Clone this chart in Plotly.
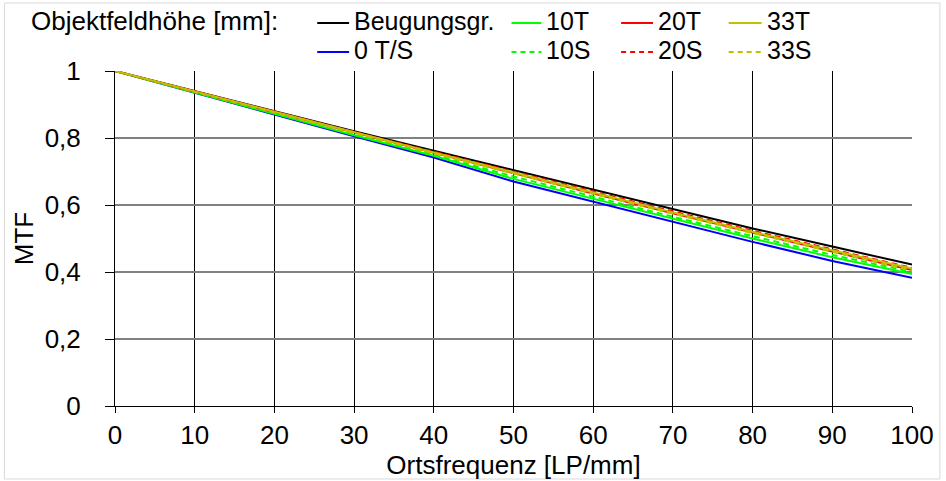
import plotly.graph_objects as go

# Spatial frequency grid [LP/mm]
freq = [0, 10, 20, 30, 40, 50, 60, 70, 80, 90, 100]

# MTF values per object field height
mtf_diffraction = [1.0, 0.940, 0.879, 0.820, 0.762, 0.704, 0.646, 0.588, 0.530, 0.476, 0.422]
mtf_0ts = [1.0, 0.936, 0.870, 0.805, 0.742, 0.670, 0.610, 0.548, 0.490, 0.433, 0.383]
mtf_10t = [1.0, 0.937, 0.872, 0.808, 0.747, 0.678, 0.618, 0.558, 0.500, 0.444, 0.394]
mtf_10s = [1.0, 0.938, 0.874, 0.811, 0.750, 0.685, 0.624, 0.565, 0.507, 0.451, 0.400]
mtf_20t = [1.0, 0.939, 0.876, 0.815, 0.755, 0.694, 0.634, 0.575, 0.517, 0.461, 0.406]
mtf_20s = [1.0, 0.939, 0.878, 0.818, 0.759, 0.699, 0.640, 0.581, 0.523, 0.468, 0.412]
mtf_33t = [1.0, 0.939, 0.877, 0.816, 0.757, 0.697, 0.637, 0.578, 0.520, 0.465, 0.410]
mtf_33s = [1.0, 0.939, 0.876, 0.814, 0.754, 0.693, 0.633, 0.574, 0.516, 0.460, 0.405]

x_ticks = [0, 10, 20, 30, 40, 50, 60, 70, 80, 90, 100]
y_ticks = [0, 0.2, 0.4, 0.6, 0.8, 1.0]
y_tick_labels = ["0", "0,2", "0,4", "0,6", "0,8", "1"]

BLACK = "#000000"
BLUE = "#0000FF"
GREEN = "#00FF00"
RED = "#FF0000"
OLIVE = "#C0C000"
DASH = "6px,4px"

series = [
    ("Beugungsgr.", mtf_diffraction, BLACK, "solid"),
    ("0 T/S", mtf_0ts, BLUE, "solid"),
    ("10T", mtf_10t, GREEN, "solid"),
    ("10S", mtf_10s, GREEN, DASH),
    ("20T", mtf_20t, RED, "solid"),
    ("20S", mtf_20s, RED, DASH),
    ("33T", mtf_33t, OLIVE, "solid"),
    ("33S", mtf_33s, OLIVE, DASH),
]

W, H = 946, 481
L, R, T, B = 115, 31, 71, 75
FONT = "Liberation Sans, Arial, sans-serif"
FS = 26
LEG_FS = 25

fig = go.Figure()
for name, vals, color, dash in series:
    fig.add_trace(go.Scatter(
        x=freq, y=vals, name=name, mode="lines",
        line=dict(color=color, width=2, dash=dash),
        showlegend=False,
    ))


def px_x(px):
    return (px - L) / (W - L - R)


def px_y(py):
    return (H - B - py) / (H - T - B)


shapes = []
annotations = []

# Outer frame around the whole chart
shapes.append(dict(type="rect", xref="paper", yref="paper",
                   x0=px_x(4), x1=px_x(943), y0=px_y(479), y1=px_y(3),
                   line=dict(color="#D9D9D9", width=1), layer="below"))

ROW1, ROW2 = 21, 50

# Legend header
annotations.append(dict(text="Objektfeldhöhe [mm]:", xref="paper", yref="paper",
                        x=px_x(29), y=px_y(ROW1), xanchor="left", yanchor="middle",
                        showarrow=False, font=dict(size=FS, color=BLACK, family=FONT)))

# Legend entries: (name, color, dash, line x0, line x1, row y)
legend_items = [
    ("Beugungsgr.", BLACK, "solid", 318, 350, ROW1),
    ("10T", GREEN, "solid", 513, 543, ROW1),
    ("20T", RED, "solid", 623, 655, ROW1),
    ("33T", OLIVE, "solid", 731, 764, ROW1),
    ("0 T/S", BLUE, "solid", 318, 350, ROW2),
    ("10S", GREEN, "5px,4px", 513, 543, ROW2),
    ("20S", RED, "5px,4px", 623, 655, ROW2),
    ("33S", OLIVE, "5px,4px", 731, 764, ROW2),
]
for name, color, dash, lx0, lx1, ly in legend_items:
    shapes.append(dict(type="line", xref="paper", yref="paper",
                       x0=px_x(lx0), x1=px_x(lx1), y0=px_y(ly + 2), y1=px_y(ly + 2),
                       line=dict(color=color, width=2, dash=dash)))
    annotations.append(dict(text=name, xref="paper", yref="paper",
                            x=px_x(lx1 + 3), y=px_y(ly), xanchor="left", yanchor="middle",
                            showarrow=False, font=dict(size=LEG_FS, color=BLACK, family=FONT)))

fig.update_layout(
    width=W, height=H,
    margin=dict(l=L, r=R, t=T, b=B, pad=0),
    paper_bgcolor="white", plot_bgcolor="white",
    font=dict(family=FONT, size=FS, color=BLACK),
    shapes=shapes, annotations=annotations,
    showlegend=False,
)
fig.update_xaxes(
    range=[0, 100], tickvals=x_ticks, ticktext=[str(v) for v in x_ticks],
    showgrid=True, gridcolor=BLACK, gridwidth=1,
    showline=True, linecolor=BLACK, linewidth=1,
    ticks="outside", ticklen=6, tickcolor=BLACK, tickwidth=1,
    zeroline=False,
    title=dict(text="Ortsfrequenz [LP/mm]", standoff=0, font=dict(size=FS)),
    tickfont=dict(size=FS),
)
fig.update_yaxes(
    range=[0, 1], tickvals=y_ticks, ticktext=y_tick_labels,
    showgrid=True, gridcolor="#808080", gridwidth=1.5,
    showline=True, linecolor=BLACK, linewidth=1,
    ticks="outside", ticklen=9, tickcolor=BLACK, tickwidth=1,
    ticklabelstandoff=19,
    zeroline=False,
    title=dict(text="MTF", standoff=3, font=dict(size=FS)),
    tickfont=dict(size=FS),
)

fig.write_html("out.html")
